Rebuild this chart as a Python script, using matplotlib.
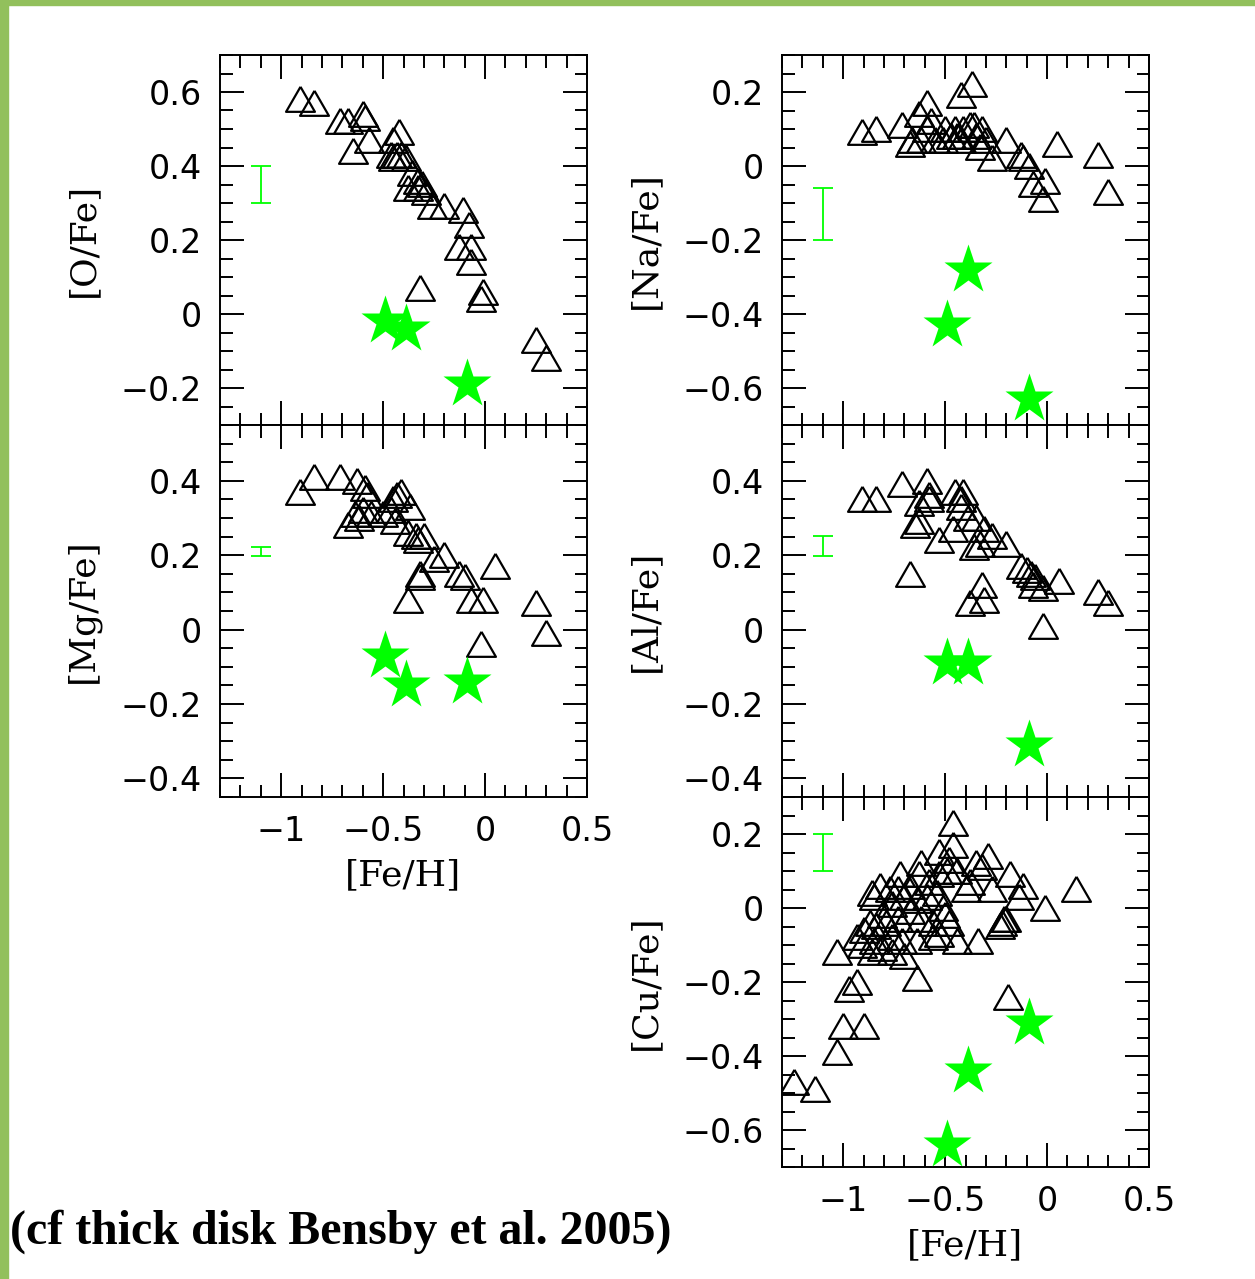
import numpy              as np
import matplotlib.pyplot  as plt
import matplotlib.ticker  as ticker
import matplotlib.patches as patches


# Thick disk abundances ([Fe/H], [X/Fe]), open triangles
o_feh  = [-0.91, -0.84, -0.71, -0.67, -0.60, -0.59, -0.57, -0.65, -0.42, -0.45,
          -0.46, -0.43, -0.41, -0.39, -0.45, -0.36, -0.33, -0.31, -0.38, -0.33,
          -0.29, -0.26, -0.20, -0.11, -0.08, -0.13, -0.07, -0.07, -0.32, -0.01,
          -0.02,  0.25,  0.30]
o_fe   = [ 0.57,  0.56,  0.51,  0.51,  0.53,  0.52,  0.46,  0.43,  0.48,  0.46,
           0.42,  0.42,  0.42,  0.41,  0.41,  0.37,  0.35,  0.34,  0.33,  0.33,
           0.32,  0.28,  0.28,  0.27,  0.23,  0.17,  0.17,  0.13,  0.06,  0.05,
           0.03, -0.08, -0.13]

na_feh = [-0.91, -0.84, -0.71, -0.59, -0.63, -0.57, -0.59, -0.66, -0.62, -0.55,
          -0.67, -0.51, -0.42, -0.37, -0.45, -0.38, -0.41, -0.32, -0.35, -0.42,
          -0.30, -0.33, -0.47, -0.20, -0.27, -0.13, -0.12, -0.09, -0.07, -0.01,
          -0.02,  0.05,  0.25,  0.30, -0.50, -0.44, -0.36]
na_fe  = [ 0.08,  0.09,  0.10,  0.16,  0.13,  0.11,  0.09,  0.06,  0.06,  0.06,
           0.05,  0.06,  0.18,  0.21,  0.09,  0.10,  0.09,  0.09,  0.07,  0.06,
           0.06,  0.04,  0.07,  0.06,  0.01,  0.02,  0.01, -0.01, -0.06, -0.05,
          -0.10,  0.05,  0.02, -0.08,  0.09,  0.07,  0.10]

mg_feh = [-0.91, -0.84, -0.71, -0.63, -0.59, -0.58, -0.64, -0.60, -0.67, -0.62,
          -0.56, -0.50, -0.45, -0.41, -0.43, -0.37, -0.46, -0.44, -0.38, -0.34,
          -0.30, -0.33, -0.25, -0.20, -0.32, -0.32, -0.13, -0.10,  0.05, -0.38,
          -0.07, -0.01, -0.02,  0.25,  0.30]
mg_fe  = [ 0.36,  0.40,  0.40,  0.39,  0.37,  0.35,  0.30,  0.31,  0.27,  0.29,
           0.30,  0.30,  0.34,  0.36,  0.35,  0.32,  0.31,  0.28,  0.25,  0.24,
           0.24,  0.23,  0.18,  0.19,  0.14,  0.13,  0.14,  0.13,  0.16,  0.07,
           0.07,  0.07, -0.05,  0.06, -0.02]

al_feh = [-0.91, -0.84, -0.71, -0.59, -0.63, -0.58, -0.58, -0.65, -0.63, -0.53,
          -0.45, -0.41, -0.42, -0.42, -0.46, -0.39, -0.35, -0.31, -0.27, -0.36,
          -0.33, -0.20, -0.13, -0.10, -0.08, -0.06, -0.02,  0.06, -0.67, -0.32,
          -0.38, -0.31, -0.02,  0.25,  0.30, -0.07]
al_fe  = [ 0.34,  0.34,  0.38,  0.39,  0.33,  0.35,  0.34,  0.27,  0.28,  0.23,
           0.36,  0.36,  0.34,  0.32,  0.26,  0.29,  0.29,  0.26,  0.24,  0.21,
           0.22,  0.22,  0.16,  0.15,  0.14,  0.13,  0.10,  0.12,  0.14,  0.11,
           0.06,  0.07,  0.00,  0.09,  0.06,  0.11]

cu_feh = [-0.46,  0.14, -0.01, -0.18, -0.12, -0.14, -0.21, -0.23, -0.34, -0.44,
          -0.29, -0.35, -0.53, -0.46, -0.62, -0.72, -0.82, -0.85, -0.64, -1.03,
          -0.93, -0.97, -1.00, -0.90, -1.03, -1.24, -1.14, -0.19, -0.86, -0.77,
          -0.73, -0.63, -0.67, -0.58, -0.53, -0.48, -0.44, -0.49, -0.32, -0.27,
          -0.40, -0.38, -0.54, -0.51, -0.59, -0.64, -0.70, -0.76, -0.81, -0.87,
          -0.90, -0.84, -0.79, -0.73, -0.67, -0.62, -0.56, -0.50, -0.48, -0.85,
          -0.76, -0.71, -0.64, -0.53, -0.22, -0.20, -0.86, -0.70, -0.81, -0.91,
          -0.93, -0.56, -0.76]
cu_fe  = [ 0.22,  0.04, -0.01,  0.08,  0.05,  0.02, -0.04, -0.06, -0.10, -0.10,
           0.13,  0.11,  0.14,  0.16,  0.11,  0.08,  0.05,  0.02, -0.20, -0.13,
          -0.21, -0.23, -0.33, -0.33, -0.40, -0.48, -0.50, -0.25,  0.03,  0.04,
           0.04,  0.08,  0.05,  0.06,  0.08,  0.12,  0.09,  0.09,  0.10,  0.04,
           0.04,  0.06,  0.03, -0.01,  0.02,  0.01,  0.02,  0.00, -0.03, -0.05,
          -0.07, -0.06, -0.05, -0.04, -0.02, -0.04, -0.05, -0.03, -0.05, -0.10,
          -0.09, -0.10, -0.10, -0.08, -0.05, -0.04, -0.13, -0.14, -0.12, -0.11,
          -0.09, -0.09, -0.13]

# Program stars, filled green stars
star_feh = [-0.49, -0.39, -0.09]
star_o   = [-0.02, -0.04, -0.19]
star_na  = [-0.43, -0.28, -0.63]
star_mg  = [-0.07, -0.15, -0.14]
star_al  = [-0.09, -0.09, -0.31]
star_cu  = [-0.64, -0.44, -0.31]

# Typical error bar (centre, half size) drawn at [Fe/H] = -1.1
err_feh = -1.10
err_o   = (0.350, 0.050)
err_na  = (-0.130, 0.070)
err_mg  = (0.210, 0.013)
err_al  = (0.225, 0.026)
err_cu  = (0.150, 0.050)


# Plotting parameters
width   = 1255
height  = 1279
green   = '#00ff00'
frame   = '#92c05c'
lw      = 1.4
tri     = [(0, 1), (-0.866, -0.5), (0.866, -0.5), (0, 1)]

#        label       x data  y data  stars    error    ylim          (left, top, bottom)  xlabels
panels = [('[O/Fe]',  o_feh,  o_fe,  star_o,  err_o,  (-0.30, 0.70), (220,  55,  425), False),
          ('[Na/Fe]', na_feh, na_fe, star_na, err_na, (-0.70, 0.30), (782,  55,  425), False),
          ('[Mg/Fe]', mg_feh, mg_fe, star_mg, err_mg, (-0.45, 0.55), (220, 425,  797), True),
          ('[Al/Fe]', al_feh, al_fe, star_al, err_al, (-0.45, 0.55), (782, 425,  797), False),
          ('[Cu/Fe]', cu_feh, cu_fe, star_cu, err_cu, (-0.70, 0.30), (782, 797, 1167), True)]


def tick_label(value, pos):
    """Plain tick labels with a true minus sign"""
    text = '{:g}'.format(round(value, 3))
    if text == '-0':
        text = '0'
    return text.replace('-', '\u2212')


fig = plt.figure(figsize=(width / 100, height / 100), dpi=100)

for label, xs, ys, stars, err, ylim, (left, top, bottom), xlabels in panels:
    ax = fig.add_axes([left / width, 1 - bottom / height,
                       367 / width, (bottom - top) / height])
    #       Thick disk stars
    ax.plot(xs, ys, linestyle='none', marker=tri, ms=24,
            mfc='none', mec='k', mew=1.6)
    #       Program stars
    ax.plot(star_feh, stars, linestyle='none', marker='*', ms=37,
            color=green, mec='none', zorder=4)
    #       Typical error
    ax.errorbar([err_feh], [err[0]], yerr=[err[1]], fmt='none',
                ecolor=green, elinewidth=1.3, capsize=7, capthick=1.3)

    ax.set_xlim(-1.3, 0.5)
    ax.set_ylim(*ylim)
    ax.xaxis.set_major_locator(ticker.MultipleLocator(0.5))
    ax.xaxis.set_minor_locator(ticker.MultipleLocator(0.1))
    ax.yaxis.set_major_locator(ticker.MultipleLocator(0.2))
    ax.yaxis.set_minor_locator(ticker.MultipleLocator(0.05))
    ax.xaxis.set_major_formatter(ticker.FuncFormatter(tick_label))
    ax.yaxis.set_major_formatter(ticker.FuncFormatter(tick_label))
    ax.tick_params(which='both', direction='in', top=True, right=True,
                   width=lw, labelsize=24, pad=13)
    ax.tick_params(which='major', length=17)
    ax.tick_params(which='minor', length=9)
    ax.tick_params(labelbottom=xlabels)
    for spine in ax.spines.values():
        spine.set_linewidth(lw)

    #       Axis labels
    ax.text(-0.373, 0.5, label, transform=ax.transAxes, rotation=90,
            ha='center', va='center', family='DejaVu Serif', size=26)
    if xlabels:
        ax.text(0.5, -0.211, '[Fe/H]', transform=ax.transAxes,
                ha='center', va='center', family='DejaVu Serif', size=26)

# Reference note
fig.text(10 / width, 1 - 1232 / height, '(cf thick disk Bensby et al. 2005)',
         ha='left', va='center', family='Liberation Serif',
         weight='bold', size=34.5)

# Slide frame
fig.add_artist(patches.Rectangle((0, 0), 8 / width, 1, color=frame,
                                 transform=fig.transFigure))
fig.add_artist(patches.Rectangle((0, 1 - 5 / height), 1, 5 / height,
                                 color=frame, transform=fig.transFigure))

fig.savefig('out.png', dpi=100)
